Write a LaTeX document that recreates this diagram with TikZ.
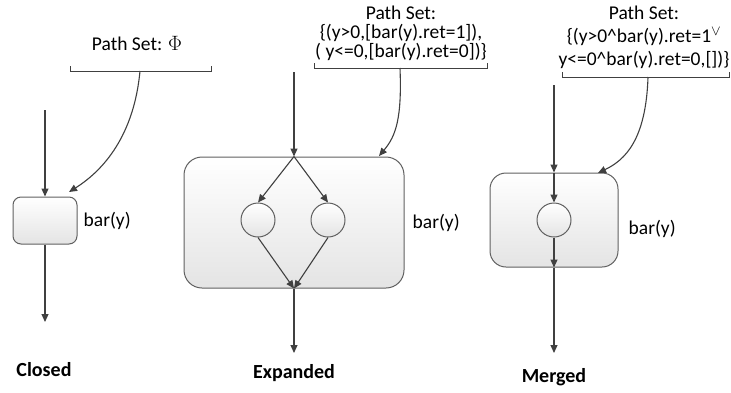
\documentclass[tikz,border=0pt]{standalone}
\usepackage{fontspec}
\setmainfont{Carlito}
\usepackage{xcolor}
\usetikzlibrary{arrows.meta,positioning}

\definecolor{linegray}{HTML}{404040}
\definecolor{boxedge}{HTML}{606060}
\definecolor{boxfill}{HTML}{E4E4E4}

\begin{document}
\begin{tikzpicture}
      [ x=1pt, y=-1pt,
        every node/.style={inner sep=0pt, font=\fontsize{19.5}{19}\selectfont},
        blk/.style={draw=boxedge, line width=1pt, top color=white, bottom color=boxfill},
        blob/.style={circle, blk, minimum size=34pt},
        flow/.style={linegray, line width=1.1pt, -{Triangle[length=8pt,width=7pt]}},
        brk/.style={draw=linegray, line width=1pt},
        tag/.style={font=\fontsize{20}{20}\selectfont\bfseries}
      ]
      \useasboundingbox (0,0) rectangle (731,392);

      % closed
      \node[blk, rounded corners=8pt, minimum width=64pt, minimum height=47pt]
                                (closedbox) at (45,220.5)            {};
      \node                     (closedname) [right=6pt of closedbox] {bar(y)};
      \node                     (closedps)   at (137,43)             {Path Set: $\Phi$};
      \node[tag]                (closedtag)  at (44,370)             {Closed};
      \coordinate (closedin)  at (45,110);
      \coordinate (closedout) at (45,322);
      \coordinate (closedbr)  at (140,71);
      \coordinate (closedtip) at (69,192);
      \draw[brk] (70,66) |- (211,71) -- (211,66);

      \path[flow] (closedin)  edge (closedbox)
                  (closedbox) edge (closedout);
      \draw[flow] (closedbr) .. controls (134,135) and (104,170) .. (closedtip);

      % expanded
      \node[blk, rounded corners=18pt, minimum width=220pt, minimum height=131pt]
                                (expbox)  at (294,222.5)          {};
      \node[blob]               (lc)      at (258,220)            {};
      \node[blob]               (rc)      at (328,220)            {};
      \node                     (expname) [right=8pt of expbox]   {bar(y)};
      \node[align=center]       (expps)   at (401,33.5)
            {Path Set:\\\{(y>0,[bar(y).ret=1]),\\( y<=0,[bar(y).ret=0])\}};
      \node[tag]                (exptag)  at (294,373)            {Expanded};
      \coordinate (expin)  at (294,72);
      \coordinate (expout) at (294,353);
      \coordinate (expbr)  at (400,68);
      \coordinate (exptip) at (379,156);
      \draw[brk] (314,63) |- (487,68) -- (487,63);

      \path[flow] (expin)      edge (expbox.north)
                  (expbox.north) edge (lc.north)
                  (expbox.north) edge (rc.north)
                  (lc.south)   edge (expbox.south)
                  (rc.south)   edge (expbox.south)
                  (expbox.south) edge (expout);
      \draw[flow] (expbr) .. controls (402,118) and (396,136) .. (exptip);

      % merged
      \node[blk, rounded corners=16pt, minimum width=128pt, minimum height=94pt]
                                (mrgbox)  at (554,220)            {};
      \node[blob]               (mc)      at (554,220)            {};
      \node                     (mrgname) [right=10pt of mrgbox, yshift=-9pt] {bar(y)};
      \node[align=center, font=\fontsize{19.5}{23}\selectfont]
                                (mrgps)   at (644,37.5)
            {Path Set:\\\{(y>0\textasciicircum bar(y).ret=1\textsuperscript{$\vee$}\\y<=0\textasciicircum bar(y).ret=0,[])\}};
      \node[tag]                (mrgtag)  at (554,377)            {Merged};
      \coordinate (mrgin)  at (554,85);
      \coordinate (mrgout) at (554,353);
      \coordinate (mrgbr)  at (648,77);
      \coordinate (mrgtip) at (598,173);
      \draw[brk] (562,72) |- (729,77) -- (729,72);

      \path[flow] (mrgin)       edge (mrgbox.north)
                  (mrgbox.north) edge (mc)
                  (mc)          edge (mrgbox.south)
                  (mrgbox.south) edge (mrgout);
      \draw[flow] (mrgbr) .. controls (646,140) and (625,160) .. (mrgtip);
\end{tikzpicture}
\end{document}
